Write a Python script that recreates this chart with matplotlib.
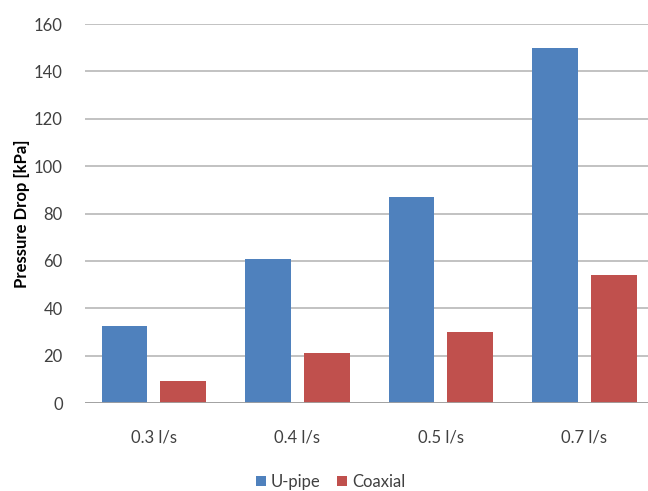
import numpy as np
import matplotlib
matplotlib.use('Agg')
import matplotlib.pyplot as plt

flows = ['0.3 l/s', '0.4 l/s', '0.5 l/s', '0.7 l/s']
upipe = [32.5, 61, 87, 150]
coaxial = [9.3, 21, 30, 54]

plt.rcParams['font.family'] = ['Lato', 'DejaVu Sans']

fig = plt.figure(figsize=(6.48, 4.91), dpi=100)
ax = fig.add_axes([0.131, 0.179, 0.869, 0.772])

x = np.arange(len(flows))
w = 0.32
off = 0.205
ax.bar(x - off, upipe, w, color='#4f81bd', label='U-pipe', zorder=3)
ax.bar(x + off, coaxial, w, color='#c0504d', label='Coaxial', zorder=3)

ax.set_ylim(0, 160)
ax.set_xlim(-0.481, 3.443)
ax.set_yticks(range(0, 161, 20))
ax.set_xticks(x)
ax.set_xticklabels(flows)
ax.yaxis.grid(True, color='#bdbdbd', linewidth=1.3, zorder=0)
ax.axhline(0, color='#a0a0a0', linewidth=1.3, zorder=4)

for s in ax.spines.values():
    s.set_visible(False)
ax.tick_params(axis='both', length=0, labelsize=12, colors='#404040')
ax.tick_params(axis='x', pad=19)
ax.tick_params(axis='y', pad=16)

ax.set_ylabel('Pressure Drop [kPa]', fontsize=12, fontweight='bold', labelpad=3)

fig.legend(loc='lower center', bbox_to_anchor=(0.51, -0.028), ncol=2, frameon=False,
           fontsize=12, handlelength=0.6, handleheight=0.6, handletextpad=0.3,
           columnspacing=1.0, labelcolor='#404040')

fig.savefig('out.png', dpi=100)
